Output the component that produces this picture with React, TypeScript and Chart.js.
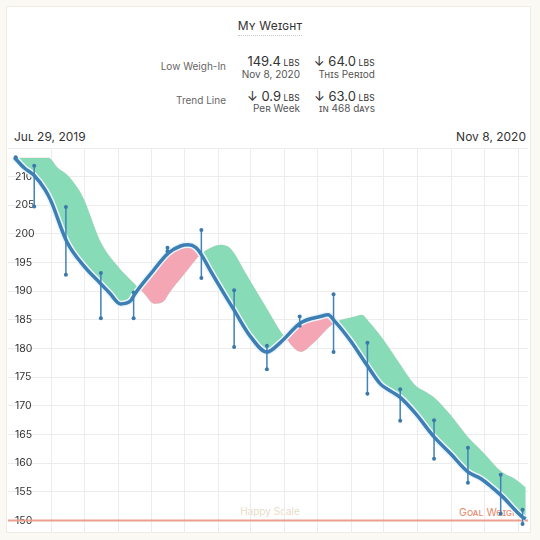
import React, { useEffect, useRef } from "react";
import { Chart, registerables } from "chart.js";

Chart.register(...registerables);

// Days counted from Jul 29, 2019 (day 0) to Nov 8, 2020 (day 468)
const TOTAL_DAYS = 468;
const PERIOD_DAYS = 31;
const GOAL_WEIGHT = 150;

const trendDays = [0, 9, 18, 28, 33, 48, 64, 78, 87, 97, 106, 110, 124, 141, 152, 159, 166, 171, 179, 201, 216, 231, 243, 262, 280, 287, 293, 307, 323, 335, 345, 353, 367, 384, 399, 415, 427, 437, 446, 465, 468];
const trendValues = [213.3, 211.5, 210.2, 207.7, 205.9, 198.6, 194.3, 191.5, 189.7, 187.8, 188.3, 189.5, 192.9, 196.7, 197.9, 198.1, 197.6, 196.4, 193.7, 186.7, 182.1, 179.4, 181.0, 184.5, 185.6, 185.9, 184.8, 181.5, 177.0, 173.8, 172.5, 171.5, 168.7, 164.6, 161.7, 158.5, 157.3, 155.8, 154.3, 150.6, 150.3];

const rangeDays = [1, 18, 47, 79, 109, 140, 171, 201, 231, 261, 292, 323, 353, 384, 415, 445, 465];
const rangeHigh = [213.4, 211.9, 204.7, 193.2, 189.8, 197.6, 200.7, 190.2, 180.5, 185.6, 189.5, 181.0, 172.9, 167.5, 162.7, 158.0, 151.9];
const rangeLow = [213.2, 204.8, 192.9, 185.3, 185.3, 197.0, 192.3, 180.3, 176.4, 184.0, 179.4, 172.1, 167.4, 160.8, 156.6, 151.2, 149.4];

const monthStartDays = [34, 64, 95, 125, 156, 187, 216, 247, 277, 308, 338, 369, 400, 430, 461];

const Y_MIN = 148;
const Y_MAX = 215;
const Y_STEP = 5;

const FONT = "Inter, 'Liberation Sans', Arial, sans-serif";

function ChartCanvas() {
  const ref = useRef<HTMLCanvasElement | null>(null);
  useEffect(() => {
    if (!ref.current) return;
    const trend = trendDays.map((d, i) => ({ x: d, y: trendValues[i] }));
    const periodAgo = [{ x: 0, y: trendValues[0] }].concat(
      trendDays
        .map((d, i) => ({ x: d + PERIOD_DAYS, y: trendValues[i] }))
        .filter((p) => p.x <= TOTAL_DAYS)
    );
    const ranges: { x: number; y: number | null }[] = [];
    rangeDays.forEach((d, i) => {
      ranges.push({ x: d, y: rangeHigh[i] });
      ranges.push({ x: d, y: rangeLow[i] });
      ranges.push({ x: d, y: null });
    });
    const goal = [
      { x: -10, y: GOAL_WEIGHT },
      { x: TOTAL_DAYS + 10, y: GOAL_WEIGHT },
    ];

    const chart = new Chart(ref.current, {
      type: "line",
      data: {
        datasets: [
          {
            label: "period",
            data: periodAgo,
            borderWidth: 0,
            borderColor: "rgba(0,0,0,0)",
            pointRadius: 0,
            cubicInterpolationMode: "monotone",
            fill: false,
            order: 5,
          },
          {
            label: "halo",
            data: trend,
            borderColor: "#eaf5fa",
            borderWidth: 6.5,
            pointRadius: 0,
            cubicInterpolationMode: "monotone",
            fill: { target: 0, above: "#f5a6b4", below: "#87dbb7" },
            order: 4,
          },
          {
            label: "trend",
            data: trend,
            borderColor: "#3d7eb5",
            borderWidth: 3.5,
            pointRadius: 0,
            cubicInterpolationMode: "monotone",
            fill: false,
            order: 2,
          },
          {
            label: "ranges",
            data: ranges,
            borderColor: "#4282b8",
            borderWidth: 1.5,
            pointRadius: 2,
            pointBackgroundColor: "#3b78ab",
            pointBorderWidth: 0,
            tension: 0,
            spanGaps: false,
            fill: false,
            order: 3,
          },
          {
            label: "goal",
            data: goal,
            borderColor: "#eba08f",
            borderWidth: 2,
            pointRadius: 0,
            tension: 0,
            fill: false,
            order: 10,
          },
        ],
      },
      options: {
        responsive: false,
        animation: false,
        devicePixelRatio: 1,
        layout: { padding: 0, autoPadding: false },
        plugins: {
          legend: { display: false },
          tooltip: { enabled: false },
          title: { display: false },
        },
        scales: {
          x: {
            type: "linear",
            min: -6,
            max: TOTAL_DAYS + 2,
            border: { display: false },
            grid: { color: "#ececec", lineWidth: 1, drawTicks: false },
            ticks: { display: false },
            afterBuildTicks: (scale: any) => {
              scale.ticks = monthStartDays.map((v) => ({ value: v }));
            },
            afterFit: (scale: any) => {
              scale.height = 0;
              scale.paddingLeft = 0;
              scale.paddingRight = 0;
            },
          },
          y: {
            type: "linear",
            min: Y_MIN,
            max: Y_MAX,
            border: { display: false },
            grid: { color: "#ececec", lineWidth: 1, drawTicks: false },
            afterFit: (scale: any) => {
              scale.width = 0;
              scale.paddingTop = 0;
              scale.paddingBottom = 0;
            },
            ticks: {
              stepSize: Y_STEP,
              includeBounds: false,
              autoSkip: false,
              mirror: true,
              padding: 7,
              color: "#333333",
              font: { family: FONT, size: 10.5 },
              callback: (v: any) => (Number(v) >= Y_MAX ? "" : String(v)),
            },
          },
        },
      },
    });
    return () => chart.destroy();
  }, []);
  return <canvas ref={ref} width={520} height={384} style={{ width: 520, height: 384, display: "block" }} />;
}

const sc: React.CSSProperties = { fontVariant: "small-caps" };

function RightText(props: { right: number; center: number; size: number; color: string; children: React.ReactNode; style?: React.CSSProperties }) {
  const lh = 16;
  return (
    <div
      style={{
        position: "absolute",
        right: 540 - props.right,
        top: props.center - lh / 2,
        lineHeight: lh + "px",
        fontSize: props.size,
        color: props.color,
        whiteSpace: "nowrap",
        textAlign: "right",
        fontFamily: FONT,
        ...props.style,
      }}
    >
      {props.children}
    </div>
  );
}

function Big(props: { value: string; arrow?: boolean }) {
  return (
    <span>
      {props.arrow ? "\u2193 " : ""}
      <span style={{ fontSize: 13 }}>{props.value}</span>
      <span style={{ fontSize: 8.5, textTransform: "uppercase", letterSpacing: 0.2 }}> lbs</span>
    </span>
  );
}

export default function App() {
  return (
    <div style={{ position: "absolute", left: 0, top: 0, width: 540, height: 540, background: "#fbf9f4", overflow: "hidden", fontFamily: FONT }}>
      <div style={{ position: "absolute", left: 7, top: 7, width: 523, height: 525, background: "#ffffff", boxShadow: "0 0 0 1px #f0ece3" }} />
      <div style={{ position: "absolute", left: 0, width: 540, top: 14, textAlign: "center" }}>
        <span style={{ ...sc, fontSize: 12, color: "#333", letterSpacing: 0.2, paddingBottom: 2, borderBottom: "1px dotted #c8c8c8", lineHeight: "16px" }}>My Weight</span>
      </div>

      <RightText right={226} center={66} size={10} color="#666">Low Weigh-In</RightText>
      <RightText right={300} center={61} size={13} color="#333"><Big value="149.4" /></RightText>
      <RightText right={300} center={74} size={10} color="#555" style={sc}>Nov 8, 2020</RightText>
      <RightText right={375} center={61} size={13} color="#333"><Big value="64.0" arrow /></RightText>
      <RightText right={375} center={74} size={10} color="#555" style={sc}>This Period</RightText>

      <RightText right={226} center={100} size={10} color="#666">Trend Line</RightText>
      <RightText right={300} center={96} size={13} color="#333"><Big value="0.9" arrow /></RightText>
      <RightText right={300} center={108} size={10} color="#555" style={sc}>Per Week</RightText>
      <RightText right={375} center={96} size={13} color="#333"><Big value="63.0" arrow /></RightText>
      <RightText right={375} center={108} size={10} color="#555" style={sc}>in 468 days</RightText>

      <div style={{ position: "absolute", left: 14, top: 129, fontSize: 12, color: "#333", ...sc, lineHeight: "16px" }}>Jul 29, 2019</div>
      <RightText right={526} center={137} size={12} color="#333" style={sc}>Nov 8, 2020</RightText>

      <div style={{ position: "absolute", left: 0, width: 540, top: 504, textAlign: "center", fontSize: 10, color: "#e8dcc6", lineHeight: "14px" }}>Happy Scale</div>
      <RightText right={523} center={513} size={10.5} color="#e5896b" style={sc}>Goal Weight</RightText>

      <div style={{ position: "absolute", left: 8, top: 148 }}>
        <ChartCanvas />
      </div>
    </div>
  );
}
